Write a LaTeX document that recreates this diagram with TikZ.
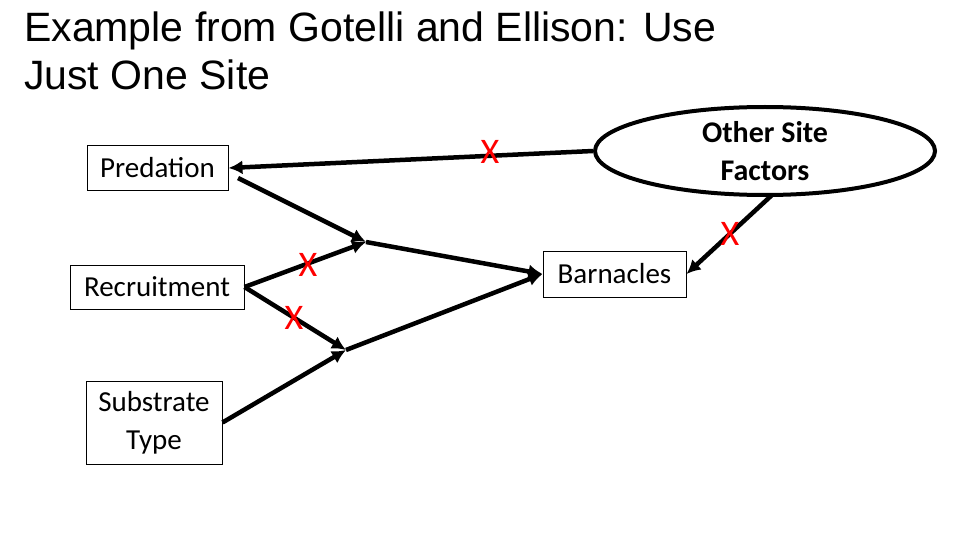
\documentclass[tikz,border=0pt]{standalone}
\usepackage{fontspec}
\setmainfont{Carlito}
\newfontfamily\titlefont{Liberation Sans}
\usetikzlibrary{shapes.geometric,arrows.meta}
\begin{document}
\begin{tikzpicture}[x=1pt,y=-1pt,
  bx/.style={draw,line width=1pt,font=\fontsize{29}{38}\selectfont,inner sep=0pt,align=center},
  ar/.style={line width=4.5pt,-{Latex[length=14pt,width=14pt]}},
  xm/.style={text=red,font=\fontsize{36}{36}\selectfont}]
\useasboundingbox (0,0) rectangle (960,540);
\node[anchor=north west,font=\titlefont\fontsize{41}{48}\selectfont,align=left,inner sep=0pt] (title) at (24,12) {Example from Gotelli and Ellison: Use\\Just One Site};
\node[bx,minimum width=141,minimum height=44] (pred) at (157.5,168) {Predation};
\node[bx,minimum width=174,minimum height=44] (rec) at (157,287) {Recruitment};
\node[bx,minimum width=136,minimum height=83] (sub) at (154,422.5) {Substrate\\Type};
\node[bx,minimum width=143,minimum height=46] (bar) at (614.5,274) {Barnacles};
\node[draw,ellipse,line width=4pt,minimum width=340,minimum height=88,inner sep=0pt,font=\bfseries\fontsize{30}{38}\selectfont,align=center] (osf) at (765,151) {Other Site\\Factors};
\coordinate (j1) at (366,242);
\coordinate (j2) at (346,350);
\draw[ar] (osf.west) -- (pred.east);
\draw[ar] (238,178) -- (j1);
\draw[ar] (rec.east) -- (j1);
\draw[ar] (j1) -- (bar.west);
\draw[ar] (rec.east) -- (j2);
\draw[ar] (sub.east) -- (j2);
\draw[ar] (j2) -- (bar.west);
\draw[ar] (772,195) -- (bar.east);
\node[xm] (x1) at (490,152) {X};
\node[xm] (x2) at (308,265) {X};
\node[xm] (x3) at (294,318) {X};
\node[xm] (x4) at (730,234) {X};
\end{tikzpicture}
\end{document}
